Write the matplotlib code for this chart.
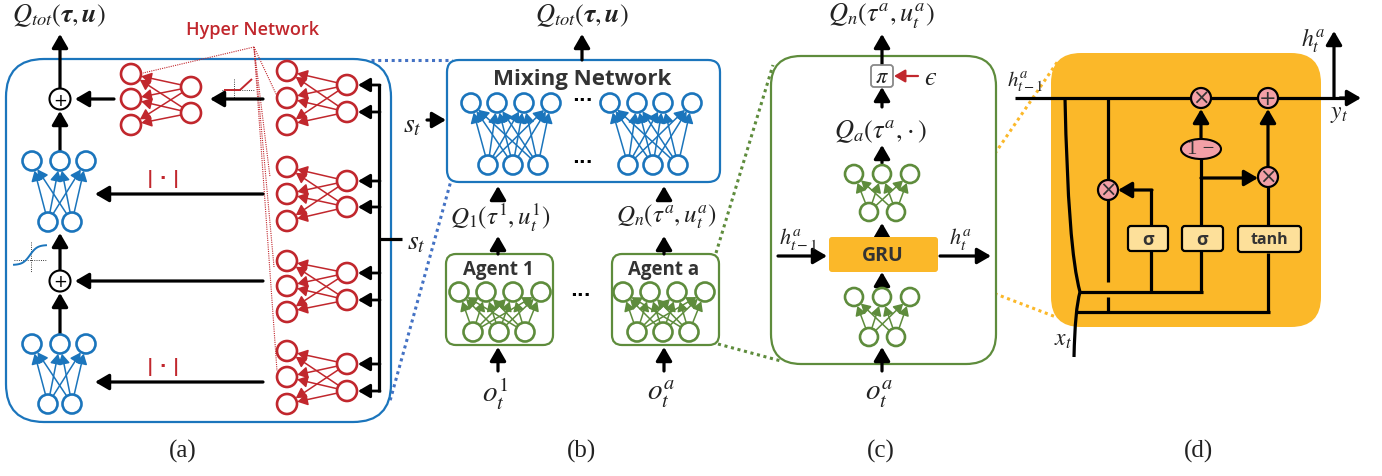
import matplotlib
matplotlib.use("Agg")
import matplotlib.pyplot as plt
from matplotlib.patches import Circle, FancyBboxPatch, Ellipse, PathPatch
from matplotlib.path import Path
import numpy as np

plt.rcParams['mathtext.fontset'] = 'stix'

# ---------------- data (layout of the diagram) ----------------
BLUE = '#1B75BC'
RED = '#C1272D'
GREEN = '#5E8C3C'
ORANGE = '#FBB829'
PINK = '#F3A0A6'
LIGHTY = '#FDE09A'
DARK = '#333333'
SANS = 'Open Sans'

panel_labels = ['(a)', '(b)', '(c)', '(d)']
panel_label_x = [183, 582, 881, 1199]

# panel (a) hyper-network nets (outputs on the left, inputs on the right)
hyper_out_x = 287
hyper_in_x = 347
hyper_out_y = [[72, 99, 126], [168, 195, 222], [262, 287, 313], [352, 378, 405]]
hyper_in_y = [[86, 113], [182, 208], [274, 301], [365, 392]]
small_out = [(131, 75), (131, 100), (131, 126)]
small_in = [(191, 88), (191, 114)]
blue_top_x = [32, 60, 86]
blue_bot_x = [48, 72]
blue_net_y = [(162, 223), (345, 405)]
abs_rows = [195, 383]

# panel (b)
mix_top_x = [[471, 497, 524, 551], [610, 637, 663, 692]]
mix_bot_x = [[488, 513, 538], [628, 653, 678]]
agent_top_dx = [0, 27, 54, 82]
agent_bot_dx = [14, 40, 66]
agent_x0 = [459, 623]
agent_names = ['Agent 1', 'Agent a']
agent_q = [r'$Q_1(\tau^1,u_t^1)$', r'$Q_n(\tau^a,u_t^a)$']
agent_o = [r'$o_t^1$', r'$o_t^a$']
agent_cx = [498, 664]

# panel (c)
c_top_x = [854, 882, 910]
c_bot_x = [869, 896]
c_net_y = [(175, 213), (298, 338)]

# panel (d)
gate_boxes = [('σ', 1128, 1168), ('σ', 1182, 1223), ('tanh', 1238, 1301)]

# ---------------- figure ----------------
fig = plt.figure(figsize=(13.82, 4.77), dpi=100)
ax = fig.add_axes([0, 0, 1, 1])
ax.set_xlim(0, 1382)
ax.set_ylim(477, 0)
ax.axis('off')

LW = 2.3


def arrow(x1, y1, x2, y2, color='k', lw=LW, ms=15, z=3):
    ax.annotate('', xy=(x2, y2), xytext=(x1, y1),
                arrowprops=dict(arrowstyle='-|>,head_length=0.55,head_width=0.32',
                                lw=lw, color=color, mutation_scale=ms,
                                shrinkA=0, shrinkB=0), zorder=z)


def line(xs, ys, color='k', lw=LW, z=3, **kw):
    ax.plot(xs, ys, color=color, lw=lw, zorder=z, solid_capstyle='butt', **kw)


def circ(x, y, r, color, lw=1.9, fc='white', z=5):
    ax.add_patch(Circle((x, y), r, fc=fc, ec=color, lw=lw, zorder=z))


def net(src, dst, r, color, lw=1.1, ms=11):
    for (sx, sy) in src:
        for (dx, dy) in dst:
            v = np.array([dx - sx, dy - sy], float)
            d = np.hypot(*v)
            u = v / d
            a = (sx + u[0] * r, sy + u[1] * r)
            b = (dx - u[0] * (r + 0.5), dy - u[1] * (r + 0.5))
            arrow(a[0], a[1], b[0], b[1], color=color, lw=lw, ms=ms, z=4)
    for (x, y) in list(src) + list(dst):
        circ(x, y, r, color)


def rbox(x0, y0, x1, y1, r, ec, fc='none', lw=1.6, z=1):
    ax.add_patch(FancyBboxPatch((x0, y0), x1 - x0, y1 - y0,
                                boxstyle=f'round,pad=0,rounding_size={r}',
                                ec=ec, fc=fc, lw=lw, zorder=z))


def txt(x, y, s, size=15, color='#222222', **kw):
    ax.text(x, y, s, ha='center', va='center', fontsize=size, color=color, **kw)


# ================= panel (a) =================
rbox(6, 60, 391, 423, 38, BLUE, lw=1.6)
txt(59, 16, r'$Q_{tot}(\boldsymbol{\tau},\boldsymbol{u})$', size=19)
arrow(60, 89, 60, 35)
circ(60, 100, 10.5, 'k', lw=1.5, z=6)
txt(60, 100.5, '+', size=12, color='k', family='DejaVu Sans', zorder=7)
circ(60, 282, 10.5, 'k', lw=1.5, z=6)
txt(60, 282.5, '+', size=12, color='k', family='DejaVu Sans', zorder=7)
arrow(114, 100, 75, 100)
arrow(263, 100, 210, 100)
arrow(60, 152, 60, 112)
arrow(60, 271, 60, 234)
arrow(60, 335, 60, 294)
for yt, yb in blue_net_y:
    net([(x, yb) for x in blue_bot_x], [(x, yt) for x in blue_top_x], 9.5, BLUE)
for yr in abs_rows:
    arrow(263, yr, 95, yr)
    txt(163, yr - 16, '| · |', size=13, color=RED, family='DejaVu Sans', weight='bold')
arrow(263, 282, 75, 282)
net(small_in, small_out, 10, RED)
for oy, iy in zip(hyper_out_y, hyper_in_y):
    net([(hyper_in_x, y) for y in iy], [(hyper_out_x, y) for y in oy], 10, RED)
    for y in iy:
        arrow(380, y, 358, y, lw=2.0, ms=13)
line([379, 379], [86, 393])
line([379, 402], [240, 240])
txt(416, 241, r'$s_t$', size=20)
# ReLU icon
line([234, 234], [80, 100], color='k', lw=0.6, z=2, ls=':')
line([222, 254], [91, 91], color='k', lw=0.6, z=2, ls=':')
line([224, 240], [91, 91], color=RED, lw=1.4)
line([240, 252], [91, 80], color=RED, lw=1.4)
# sigmoid icon
line([31, 31], [243, 273], color='k', lw=0.6, z=2, ls=':')
line([14, 46], [261, 261], color='k', lw=0.6, z=2, ls=':')
sx = np.linspace(-1, 1, 40)
ax.plot(14 + (sx + 1) * 16, 256 - 10 * np.tanh(2.2 * sx), color=BLUE, lw=1.4, zorder=3)
# Hyper network label and pointers
txt(253, 30, 'Hyper Network', size=13, color=RED, family=SANS, weight='semibold')
for tx, ty in [(143, 74), (277, 97), (270, 178), (274, 268), (277, 372)]:
    line([254, tx], [48, ty], color=RED, lw=0.8, z=2, ls=(0, (1, 1)))

# blue dotted zoom lines
line([371, 452], [61, 61], color='#4472C4', lw=2.2, z=0, ls=(0, (1, 1.2)))
line([452, 390], [178, 402], color='#4472C4', lw=2.2, z=0, ls=(0, (1, 1.2)))

# ================= panel (b) =================
rbox(447, 61, 720, 183, 12, BLUE, fc='white', lw=1.6, z=1)
txt(582, 80, 'Mixing Network', size=16, color=DARK, family=SANS, weight='bold')
txt(582, 16, r'$Q_{tot}(\boldsymbol{\tau},\boldsymbol{u})$', size=19)
arrow(582, 61, 582, 35)
txt(412, 124, r'$s_t$', size=20)
arrow(427, 121, 446, 121)
for tx, bx in zip(mix_top_x, mix_bot_x):
    net([(x, 166) for x in bx], [(x, 104) for x in tx], 9.5, BLUE)
txt(582, 101, '···', size=13, color='k', family='DejaVu Sans', weight='bold')
txt(582, 163, '···', size=13, color='k', family='DejaVu Sans', weight='bold')
for i in range(2):
    cx = agent_cx[i]
    rbox(cx - 52, 255, cx + 55, 346, 10, GREEN, fc='white', lw=1.6, z=1)
    txt(cx, 270, agent_names[i], size=13.5, color=DARK, family=SANS, weight='bold')
    x0 = agent_x0[i]
    net([(x0 + d, 333) for d in agent_bot_dx], [(x0 + d, 293) for d in agent_top_dx],
        9.5, GREEN, ms=10)
    arrow(cx, 255, cx, 237)
    arrow(cx, 372, cx, 348)
    txt(cx + 2, 217, agent_q[i], size=18)
    txt(cx - 3, 394, agent_o[i], size=21)
    arrow(cx, 201, cx, 187)
txt(580, 296, '···', size=13, color='k', family='DejaVu Sans', weight='bold')

# green dotted zoom lines
line([716, 773], [254, 66], color=GREEN, lw=2.2, z=0, ls=(0, (1, 1.2)))
line([718, 781], [345, 362], color=GREEN, lw=2.2, z=0, ls=(0, (1, 1.2)))

# ================= panel (c) =================
rbox(771, 57, 996, 365, 30, GREEN, fc='white', lw=1.6, z=1)
txt(881, 16, r'$Q_n(\tau^a,u_t^a)$', size=19)
arrow(882, 66, 882, 35)
rbox(871, 66, 893, 88, 3, '#888888', fc='white', lw=1.3, z=5)
txt(882, 77, r'$\pi$', size=16, zorder=6)
arrow(918, 77, 894, 77, color=RED, lw=1.6, ms=12)
txt(931, 78, '$\u03f5$', size=19)
arrow(882, 108, 882, 88)
txt(881, 132, r'$Q_a(\tau^a,\!\cdot)$', size=19)
arrow(882, 164, 882, 146)
for yt, yb in c_net_y:
    net([(x, yb) for x in c_bot_x], [(x, yt) for x in c_top_x], 9, GREEN, ms=10)
arrow(882, 238, 882, 224)
arrow(882, 287, 882, 273)
arrow(882, 372, 882, 348)
ax.add_patch(FancyBboxPatch((829, 238), 109, 35, boxstyle='round,pad=0,rounding_size=3',
                            ec='none', fc=ORANGE, zorder=5))
txt(883, 256, 'GRU', size=14, color=DARK, family=SANS, weight='bold', zorder=6)
arrow(778, 257, 827, 257)
arrow(940, 257, 991, 257)
txt(798, 239, r'$h_{t-1}^a$', size=16)
txt(961, 239, r'$h_t^a$', size=16)
txt(879, 394, r'$o_t^a$', size=21)

# orange dotted zoom lines
line([938, 1058], [238, 62], color=ORANGE, lw=2.2, z=0, ls=(0, (1, 1.2)))
line([938, 1056], [273, 318], color=ORANGE, lw=2.2, z=0, ls=(0, (1, 1.2)))

# ================= panel (d) =================
rbox(1051, 54, 1321, 328, 30, 'none', fc=ORANGE, lw=0, z=1)
line([1015, 1350], [99, 99])
arrow(1340, 99, 1361, 99)
arrow(1334, 99, 1334, 32)
txt(1025, 82, r'$h_{t-1}^a$', size=15)
txt(1313, 41, r'$h_t^a$', size=17)
txt(1339, 113, r'$y_t$', size=17)
txt(1063, 339, r'$x_t$', size=17)
p = Path([(1065, 99), (1068, 250), (1080, 293)], [Path.MOVETO, Path.CURVE3, Path.CURVE3])
ax.add_patch(PathPatch(p, fc='none', ec='k', lw=LW, zorder=3))
p2 = Path([(1080, 293), (1075, 310), (1074, 358)], [Path.MOVETO, Path.CURVE3, Path.CURVE3])
ax.add_patch(PathPatch(p2, fc='none', ec='k', lw=LW, zorder=3))
line([1079, 1203], [293, 293])
line([1077, 1270], [313, 313])
line([1108, 1108], [99, 283])
line([1108, 1108], [298, 313])
line([1151, 1151], [293, 252])
line([1151, 1151], [227, 191])
arrow(1152, 191, 1118, 191)
line([1201, 1201], [293, 252])
line([1201, 1201], [227, 160])
arrow(1201, 141, 1201, 110)
arrow(1201, 179, 1258, 179)
line([1268, 1268], [313, 254])
line([1268, 1268], [227, 188])
arrow(1268, 168, 1268, 110)
for name, x0, x1 in gate_boxes:
    rbox(x0, 227, x1, 252 if name != 'tanh' else 253, 3, 'k', fc=LIGHTY, lw=1.6, z=5)
    txt((x0 + x1) / 2, 240, name, size=13 if name == 'σ' else 11.5, color=DARK,
        family=SANS, weight='bold', zorder=6)
ax.add_patch(Ellipse((1201, 150), 40, 20, fc=PINK, ec='k', lw=1.5, zorder=6))
txt(1201, 150, '1 −', size=15, color='#333333', family='Liberation Serif', zorder=7)
for (x, y, s) in [(1201, 99, '×'), (1268, 99, '+'), (1268, 178, '×'), (1108, 191, '×')]:
    ax.add_patch(Circle((x, y), 10, fc=PINK, ec='k', lw=1.6, zorder=6))
    txt(x, y, s, size=15, color='#333333', family='DejaVu Sans', zorder=7)

for lab, x in zip(panel_labels, panel_label_x):
    txt(x, 451, lab, size=18, color='#222222', family='Liberation Serif')

fig.savefig('out.png', dpi=100)
